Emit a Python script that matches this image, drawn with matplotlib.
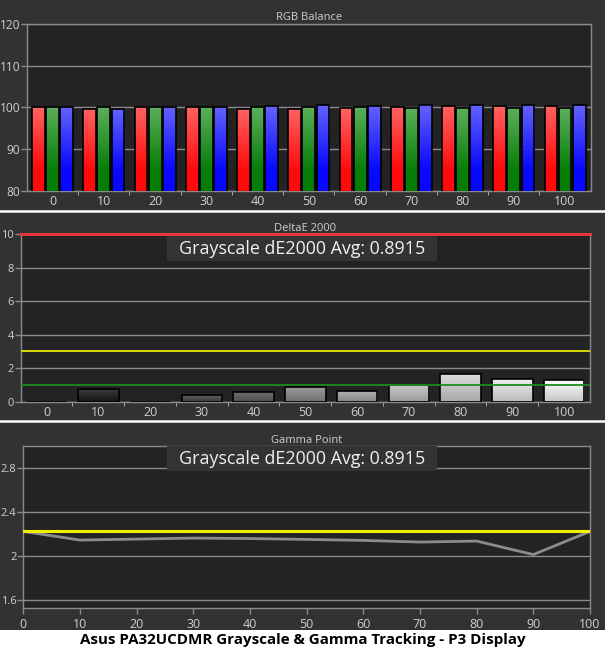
import matplotlib
matplotlib.use("Agg")
import matplotlib.pyplot as plt
import numpy as np
from matplotlib.patches import Rectangle
from matplotlib.lines import Line2D
from matplotlib.colors import LinearSegmentedColormap

# ---------------- data ----------------
levels = [0, 10, 20, 30, 40, 50, 60, 70, 80, 90, 100]
rgb_red = [100.0, 99.7, 100.0, 100.0, 99.6, 99.6, 99.75, 100.0, 100.25, 100.25, 100.25]
rgb_green = [100.0, 100.0, 100.0, 100.0, 100.0, 100.0, 100.0, 99.75, 99.75, 99.75, 99.75]
rgb_blue = [100.0, 99.5, 100.0, 100.0, 100.25, 100.5, 100.25, 100.5, 100.5, 100.5, 100.5]
delta_e = [0.0, 0.74, 0.0, 0.38, 0.58, 0.88, 0.64, 0.98, 1.63, 1.35, 1.29]
gamma_x = [0, 10, 20, 30, 40, 50, 60, 70, 80, 90, 100]
gamma_vals = [2.22, 2.141, 2.150, 2.159, 2.155, 2.147, 2.138, 2.123, 2.132, 2.009, 2.22]
gamma_target = 2.22
de_thresholds = {"red": 10, "yellow": 3, "green": 1}
avg_text = "Grayscale dE2000 Avg: 0.8915"
title_text = "Asus PA32UCDMR Grayscale & Gamma Tracking - P3 Display"

# ---------------- style ----------------
FIG_BG = "#323232"
AX_BG = "#232323"
BOX_BG = "#333333"
GRID = "#8a8a8a"
TXT = "#d0d0d0"
plt.rcParams['font.family'] = ['Open Sans', 'DejaVu Sans']

fig = plt.figure(figsize=(6.05, 6.52), dpi=100, facecolor=FIG_BG)

W, H = 605.0, 652.0
def rect(l, t, r, b):
    return [l / W, 1 - b / H, (r - l) / W, (b - t) / H]

ax1 = fig.add_axes(rect(27, 24, 590.7, 190.7))
ax2 = fig.add_axes(rect(20.7, 234.3, 590, 401.7))
ax3 = fig.add_axes(rect(23.3, 445.7, 590, 608.3))

for ax in (ax1, ax2, ax3):
    ax.set_facecolor(AX_BG)
    for s in ax.spines.values():
        s.set_color(GRID)
        s.set_linewidth(1.0)
    ax.tick_params(colors=GRID, labelcolor=TXT, length=4, width=1)
    ax.set_axisbelow(True)
    ax.yaxis.grid(True, color=GRID, lw=1.0)


def grad_fill(ax, patch, top_col, bot_col, mid=0.0):
    x0, y0 = patch.get_x(), patch.get_y()
    w, h = patch.get_width(), patch.get_height()
    ylo = max(y0, ax.get_ylim()[0])
    yhi = y0 + h
    if yhi <= ylo:
        return
    cmap = LinearSegmentedColormap.from_list(
        "g", [(0.0, bot_col), (mid, bot_col), (1.0, top_col)])
    g = np.linspace(0, 1, 64).reshape(-1, 1)
    im = ax.imshow(g, cmap=cmap, aspect="auto", origin="lower",
                   extent=[x0, x0 + w, ylo, yhi], zorder=3,
                   interpolation="bilinear")
    im.set_clip_path(patch)


# ---------------- RGB balance ----------------
n = len(levels)
xi = np.arange(n)
bw = 0.25
ax1.set_xlim(-0.5, n - 0.5)
ax1.set_ylim(80, 120)
series = [(rgb_red, -0.275, "#ff6262", "#ff0a0a"),
          (rgb_green, 0.0, "#5cae5c", "#067e06"),
          (rgb_blue, 0.275, "#6262ff", "#0808ff")]
for vals, off, ctop, cbot in series:
    bars = ax1.bar(xi + off, vals, width=bw, facecolor="none", edgecolor="black",
                   linewidth=1.2, zorder=4)
    for p in bars:
        grad_fill(ax1, p, ctop, cbot, mid=0.25)
ax1.set_xlim(-0.5, n - 0.5)
ax1.set_ylim(80, 120)
ax1.set_yticks([80, 90, 100, 110, 120])
ax1.set_xticks(xi)
ax1.set_xticklabels([str(v) for v in levels])
ax1.set_xticks(xi[:-1] + 0.5, minor=True)
ax1.tick_params(axis="x", which="major", length=0, labelsize=9, pad=3)
ax1.tick_params(axis="x", which="minor", length=3, color="#bbbbbb")
ax1.tick_params(axis="y", labelsize=8.6, pad=1)
ax1.set_title("RGB Balance", color=TXT, fontsize=8, pad=3)

# ---------------- DeltaE 2000 ----------------
ax2.set_xlim(-0.5, n - 0.5)
ax2.set_ylim(0, 10)
gray_top = ["#3a3a3a", "#3a3a3a", "#3a3a3a", "#5e5e5e", "#707070", "#9a9a9a",
            "#b0b0b0", "#c8c8c8", "#dcdcdc", "#f0f0f0", "#ffffff"]
gray_bot = ["#151515", "#151515", "#151515", "#3c3c3c", "#4e4e4e", "#707070",
            "#858585", "#9a9a9a", "#a8a8a8", "#b8b8b8", "#c4c4c4"]
bars = ax2.bar(xi, delta_e, width=0.78, facecolor="none", edgecolor="black",
               linewidth=1.2, zorder=4)
for p, ct, cb in zip(bars, gray_top, gray_bot):
    grad_fill(ax2, p, ct, cb)
ax2.set_xlim(-0.5, n - 0.5)
ax2.set_ylim(0, 10)
ax2.axhline(de_thresholds["red"], color="#e03a3a", lw=2.2, zorder=5, clip_on=False)
ax2.axhline(de_thresholds["yellow"], color="#e6e600", lw=1.3, zorder=5)
ax2.axhline(de_thresholds["green"], color="#1f8a1f", lw=1.3, zorder=5)
ax2.set_yticks([0, 2, 4, 6, 8, 10])
ax2.set_xticks(xi)
ax2.set_xticklabels([str(v) for v in levels])
ax2.set_xticks(xi[:-1] + 0.5, minor=True)
ax2.tick_params(axis="x", which="major", length=0, labelsize=9, pad=3)
ax2.tick_params(axis="x", which="minor", length=3, color="#bbbbbb")
ax2.tick_params(axis="y", labelsize=8, pad=1)
ax2.set_title("DeltaE 2000", color=TXT, fontsize=8, pad=2)
ax2.add_patch(Rectangle((0.257, 0.84), 0.474, 0.15, transform=ax2.transAxes,
                        facecolor=BOX_BG, edgecolor="none", zorder=6))
ax2.text(0.494, 0.912, avg_text, transform=ax2.transAxes, ha="center",
         va="center", color="#f0f0f0", fontsize=12.9, zorder=7)

# ---------------- Gamma ----------------
ax3.set_xlim(0, 100)
ax3.set_ylim(1.52, 3.0)
ax3.plot(gamma_x, gamma_vals, color="#8c8c8c", lw=2, zorder=3)
ax3.axhline(gamma_target, color="#f0f000", lw=2.2, zorder=4)
ax3.set_yticks([1.6, 2.0, 2.4, 2.8])
ax3.set_yticklabels(["1.6", "2", "2.4", "2.8"])
ax3.set_xticks(gamma_x)
ax3.tick_params(axis="x", labelsize=9, pad=3)
ax3.tick_params(axis="y", labelsize=8, pad=1)
ax3.set_title("Gamma Point", color=TXT, fontsize=8, pad=2)
ax3.add_patch(Rectangle((0.2536, 0.844), 0.476, 0.156, transform=ax3.transAxes,
                        facecolor=BOX_BG, edgecolor="none", zorder=5))
ax3.text(0.4916, 0.918, avg_text, transform=ax3.transAxes, ha="center",
         va="center", color="#f0f0f0", fontsize=12.9, zorder=6)

# ---------------- separators & title ----------------
for yy in (210.5, 421):
    fig.add_artist(Line2D([0, 1], [1 - yy / H, 1 - yy / H], color="white",
                          lw=1.8, transform=fig.transFigure))
fig.add_artist(Rectangle((0, 0), 1, (H - 630) / H, transform=fig.transFigure,
                         facecolor="white", edgecolor="none"))
fig.text(0.5, 1 - 640 / H, title_text, ha="center", va="center",
         color="black", fontsize=10.9, fontweight="bold")

fig.savefig("out.png", dpi=100, facecolor=FIG_BG)
